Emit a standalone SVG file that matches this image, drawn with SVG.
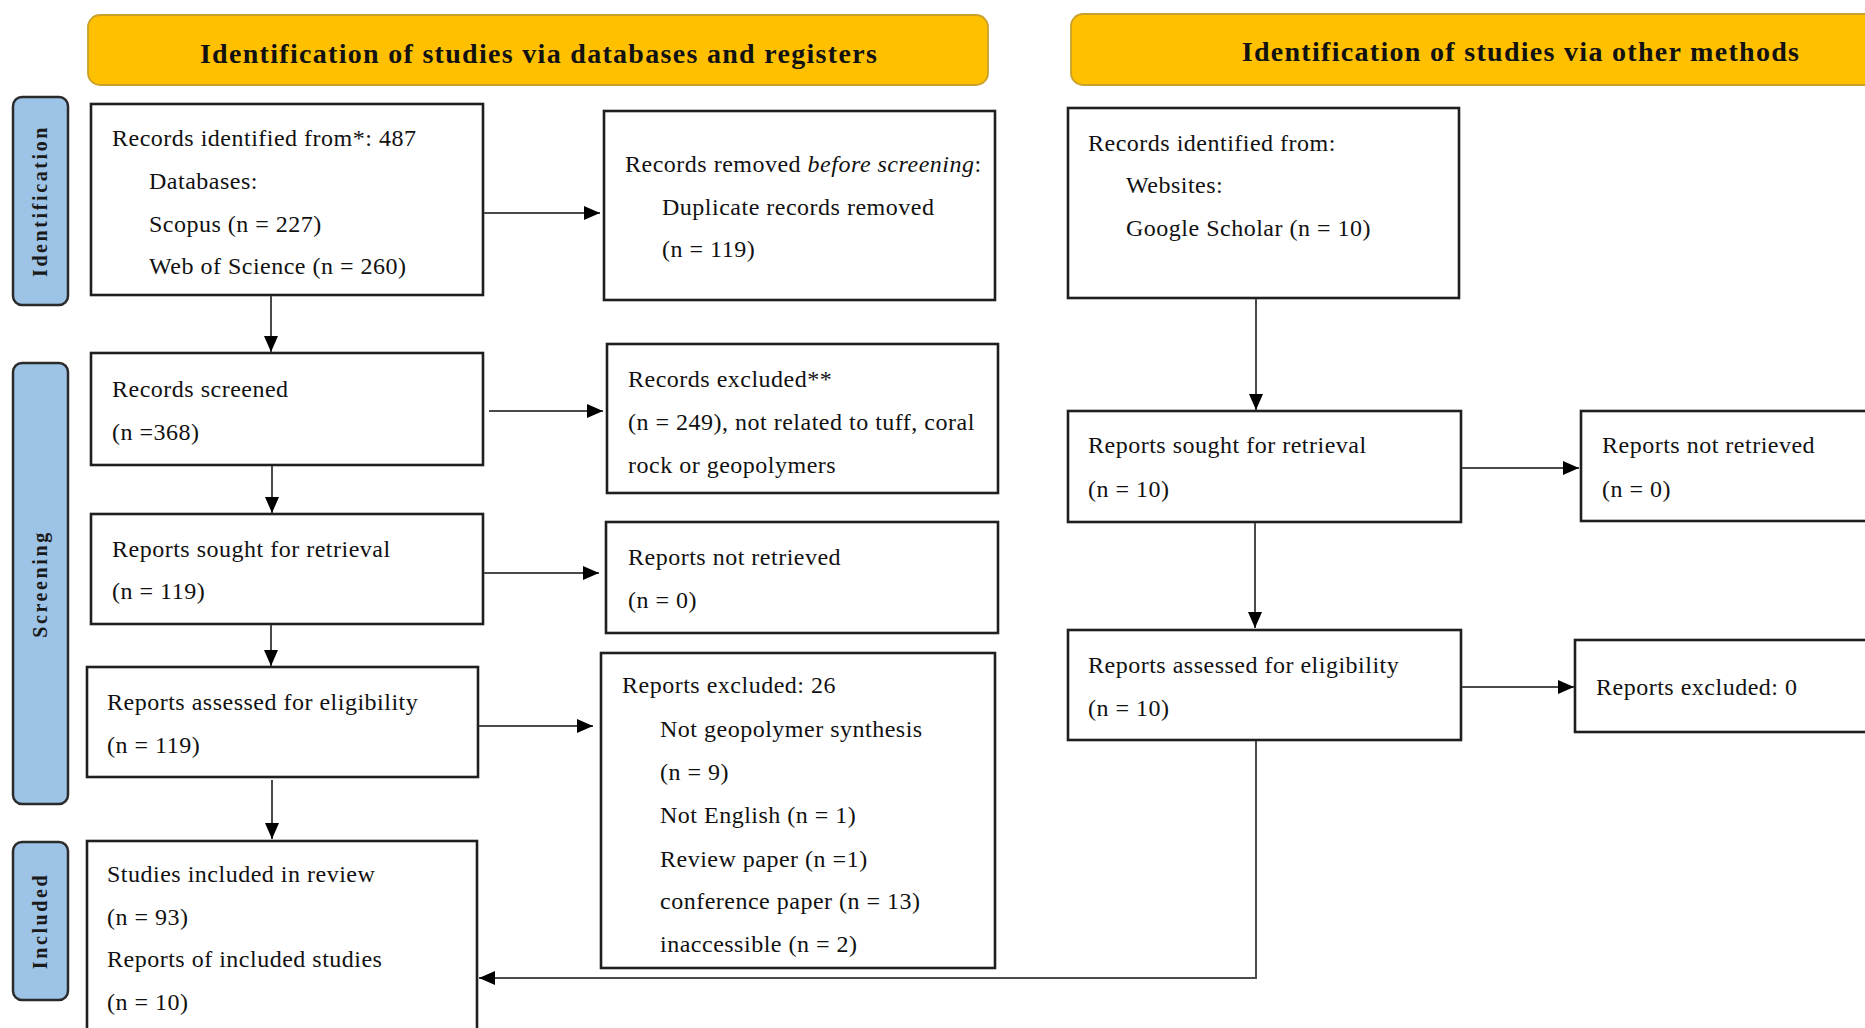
<svg xmlns="http://www.w3.org/2000/svg" width="1865" height="1028" viewBox="0 0 1865 1028">
<style>
.banner{fill:#FFC000;stroke:#C8A02A;stroke-width:1.8}
.bt{font-family:"Liberation Serif",serif;font-weight:bold;font-size:28px;letter-spacing:1.3px;fill:#111;text-anchor:middle}
.side{fill:#9DC3E6;stroke:#2b2b2b;stroke-width:2.5}
.st{font-family:"Liberation Serif",serif;font-weight:bold;font-size:20px;letter-spacing:2.6px;fill:#1a1a1a;text-anchor:middle}
.box{fill:#fff;stroke:#1f1f1f;stroke-width:2.6}
.t{font-family:"Liberation Serif",serif;font-size:24px;letter-spacing:0.5px;fill:#111}
.c{fill:none;stroke:#4a4a4a;stroke-width:2}
</style>
<defs>
<marker id="ah" markerUnits="userSpaceOnUse" markerWidth="16" markerHeight="14" refX="16" refY="7" orient="auto">
<path d="M0,0 L16,7 L0,14 z" fill="#000"/>
</marker>
</defs>
<rect width="1865" height="1028" fill="#fff"/>

<g id="banner-databases">
<rect class="banner" x="88" y="15" width="900" height="70" rx="12"/>
<text class="bt" x="539" y="63">Identification of studies via databases and registers</text>
</g>
<g id="banner-other">
<rect class="banner" x="1071" y="14" width="860" height="71" rx="12"/>
<text class="bt" x="1521" y="61">Identification of studies via other methods</text>
</g>

<g id="side-identification">
<rect class="side" x="13" y="97" width="55" height="208" rx="9"/>
<text class="st" transform="translate(47,201) rotate(-90)">Identification</text>
</g>
<g id="side-screening">
<rect class="side" x="13" y="363" width="55" height="441" rx="9"/>
<text class="st" transform="translate(47,584) rotate(-90)">Screening</text>
</g>
<g id="side-included">
<rect class="side" x="13" y="842" width="55" height="158" rx="9"/>
<text class="st" transform="translate(47,921) rotate(-90)">Included</text>
</g>

<g id="records-identified">
<rect class="box" x="91" y="104" width="392" height="191"/>
<text class="t" x="112" y="146">Records identified from*: 487</text>
<text class="t" x="149" y="189">Databases:</text>
<text class="t" x="149" y="232">Scopus (n = 227)</text>
<text class="t" x="149" y="274">Web of Science (n = 260)</text>
</g>
<g id="records-removed">
<rect class="box" x="604" y="111" width="391" height="189"/>
<text class="t" x="625" y="172">Records removed <tspan font-style="italic">before screening</tspan>:</text>
<text class="t" x="662" y="215">Duplicate records removed</text>
<text class="t" x="662" y="257">(n = 119)</text>
</g>
<g id="records-screened">
<rect class="box" x="91" y="353" width="392" height="112"/>
<text class="t" x="112" y="397">Records screened</text>
<text class="t" x="112" y="440">(n =368)</text>
</g>
<g id="records-excluded">
<rect class="box" x="607" y="344" width="391" height="149"/>
<text class="t" x="628" y="387">Records excluded**</text>
<text class="t" x="628" y="430">(n = 249), not related to tuff, coral</text>
<text class="t" x="628" y="473">rock or geopolymers</text>
</g>
<g id="reports-sought-db">
<rect class="box" x="91" y="514" width="392" height="110"/>
<text class="t" x="112" y="557">Reports sought for retrieval</text>
<text class="t" x="112" y="599">(n = 119)</text>
</g>
<g id="reports-not-retrieved-db">
<rect class="box" x="606" y="522" width="392" height="111"/>
<text class="t" x="628" y="565">Reports not retrieved</text>
<text class="t" x="628" y="608">(n = 0)</text>
</g>
<g id="reports-assessed-db">
<rect class="box" x="87" y="667" width="391" height="110"/>
<text class="t" x="107" y="710">Reports assessed for eligibility</text>
<text class="t" x="107" y="753">(n = 119)</text>
</g>
<g id="reports-excluded-db">
<rect class="box" x="601" y="653" width="394" height="315"/>
<text class="t" x="622" y="693">Reports excluded: 26</text>
<text class="t" x="660" y="737">Not geopolymer synthesis</text>
<text class="t" x="660" y="780">(n = 9)</text>
<text class="t" x="660" y="823">Not English (n = 1)</text>
<text class="t" x="660" y="867">Review paper (n =1)</text>
<text class="t" x="660" y="909">conference paper (n = 13)</text>
<text class="t" x="660" y="952">inaccessible (n = 2)</text>
</g>
<g id="studies-included">
<rect class="box" x="87" y="841" width="390" height="200"/>
<text class="t" x="107" y="882">Studies included in review</text>
<text class="t" x="107" y="925">(n = 93)</text>
<text class="t" x="107" y="967">Reports of included studies</text>
<text class="t" x="107" y="1010">(n = 10)</text>
</g>

<g id="records-identified-other">
<rect class="box" x="1068" y="108" width="391" height="190"/>
<text class="t" x="1088" y="151">Records identified from:</text>
<text class="t" x="1126" y="193">Websites:</text>
<text class="t" x="1126" y="236">Google Scholar (n = 10)</text>
</g>
<g id="reports-sought-other">
<rect class="box" x="1068" y="411" width="393" height="111"/>
<text class="t" x="1088" y="453">Reports sought for retrieval</text>
<text class="t" x="1088" y="497">(n = 10)</text>
</g>
<g id="reports-not-retrieved-other">
<rect class="box" x="1581" y="411" width="320" height="110"/>
<text class="t" x="1602" y="453">Reports not retrieved</text>
<text class="t" x="1602" y="497">(n = 0)</text>
</g>
<g id="reports-assessed-other">
<rect class="box" x="1068" y="630" width="393" height="110"/>
<text class="t" x="1088" y="673">Reports assessed for eligibility</text>
<text class="t" x="1088" y="716">(n = 10)</text>
</g>
<g id="reports-excluded-other">
<rect class="box" x="1575" y="640" width="320" height="92"/>
<text class="t" x="1596" y="695">Reports excluded: 0</text>
</g>

<g id="connectors">
<line class="c" x1="271" y1="296" x2="271" y2="352" marker-end="url(#ah)"/>
<line class="c" x1="484" y1="213" x2="600" y2="213" marker-end="url(#ah)"/>
<line class="c" x1="272" y1="466" x2="272" y2="513" marker-end="url(#ah)"/>
<line class="c" x1="489" y1="411" x2="603" y2="411" marker-end="url(#ah)"/>
<line class="c" x1="271" y1="625" x2="271" y2="666" marker-end="url(#ah)"/>
<line class="c" x1="484" y1="573" x2="599" y2="573" marker-end="url(#ah)"/>
<line class="c" x1="272" y1="780" x2="272" y2="839" marker-end="url(#ah)"/>
<line class="c" x1="479" y1="726" x2="593" y2="726" marker-end="url(#ah)"/>
<line class="c" x1="1256" y1="299" x2="1256" y2="410" marker-end="url(#ah)"/>
<line class="c" x1="1462" y1="468" x2="1579" y2="468" marker-end="url(#ah)"/>
<line class="c" x1="1255" y1="523" x2="1255" y2="628" marker-end="url(#ah)"/>
<line class="c" x1="1462" y1="687" x2="1574" y2="687" marker-end="url(#ah)"/>
<polyline class="c" points="1256,741 1256,978 479,978" marker-end="url(#ah)"/>
</g>
</svg>
